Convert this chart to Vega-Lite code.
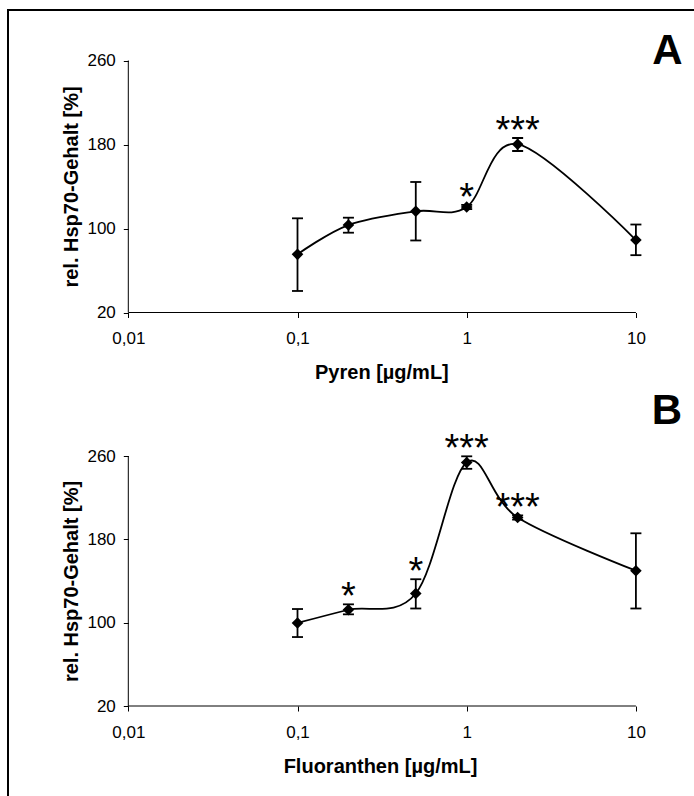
{
  "$schema": "https://vega.github.io/schema/vega-lite/v6.json",
  "width": 686,
  "height": 786,
  "autosize": {"type": "none"},
  "padding": {"left": 8, "top": 10, "right": 0, "bottom": 0},
  "background": "white",
  "config": {
    "view": {"stroke": "black", "strokeWidth": 2, "strokeDash": [686, 1472, 786]},
    "axis": {
      "grid": false, "domain": false, "tickColor": "black", "tickSize": 5, "tickWidth": 1,
      "labelFont": "Liberation Sans", "labelFontSize": 17, "labelColor": "black",
      "titleFont": "Liberation Sans", "titleFontSize": 20, "titleFontWeight": "bold", "titleColor": "black",
      "labelOverlap": false, "labelFlush": false, "labelBound": false
    }
  },
  "datasets": {
    "pyren": [
      {"conc": 0.1, "mean": 75.4, "lo": 40.5, "hi": 109.7, "sig": ""},
      {"conc": 0.2, "mean": 103.3, "lo": 96, "hi": 110.3, "sig": ""},
      {"conc": 0.5, "mean": 116.4, "lo": 88.6, "hi": 144.3, "sig": ""},
      {"conc": 1, "mean": 120.5, "lo": 118.5, "hi": 122.5, "sig": "*"},
      {"conc": 2, "mean": 180.3, "lo": 173.8, "hi": 186.2, "sig": "***"},
      {"conc": 10, "mean": 89, "lo": 74.6, "hi": 103.8, "sig": ""}
    ],
    "fluoranthen": [
      {"conc": 0.1, "mean": 99.7, "lo": 86.2, "hi": 113.1, "sig": ""},
      {"conc": 0.2, "mean": 112.4, "lo": 108, "hi": 117.6, "sig": "*"},
      {"conc": 0.5, "mean": 128, "lo": 113.6, "hi": 141.7, "sig": "*"},
      {"conc": 1, "mean": 253.8, "lo": 247.7, "hi": 259.7, "sig": "***"},
      {"conc": 2, "mean": 201, "lo": 199, "hi": 203, "sig": "***"},
      {"conc": 10, "mean": 149.9, "lo": 113.6, "hi": 185.8, "sig": ""}
    ]
  },
  "layer": [
    {
      "data": {"name": "pyren"},
      "layer": [
        {
          "mark": {"type": "line", "interpolate": "cardinal", "color": "black", "strokeWidth": 1.8},
          "encoding": {
            "x": {"field": "conc", "type": "quantitative",
              "scale": {"type": "log", "domain": [0.0019454, 22.046], "nice": false},
              "axis": {"orient": "bottom", "offset": -483.5, "values": [0.01, 0.1, 1, 10],
                "labelExpr": "replace(format(datum.value, '~g'), '.', ',')", "labelPadding": 13,
                "title": "Pyren [µg/mL]", "titleX": 373.4, "titlePadding": 16}},
            "y": {"field": "mean", "type": "quantitative",
              "scale": {"domain": [-440.48, 308.1], "nice": false, "zero": false},
              "axis": {"orient": "left", "offset": -120.3, "values": [20, 100, 180, 260], "labelPadding": 8,
                "title": "rel. Hsp70-Gehalt [%]", "titleY": 176.5, "titlePadding": 5}}
          }
        },
        {
          "mark": {"type": "rule", "color": "black", "strokeWidth": 1},
          "data": {"values": [{}]},
          "encoding": {"x": {"datum": 0.01, "type": "quantitative"}, "y": {"datum": 20, "type": "quantitative"}, "y2": {"datum": 260}}
        },
        {
          "mark": {"type": "rule", "color": "black", "strokeWidth": 1},
          "data": {"values": [{}]},
          "encoding": {"x": {"datum": 0.01, "type": "quantitative"}, "x2": {"datum": 10}, "y": {"datum": 20, "type": "quantitative"}}
        },
        {
          "mark": {"type": "rule", "color": "black", "strokeWidth": 1.8},
          "encoding": {"x": {"field": "conc", "type": "quantitative"}, "y": {"field": "lo", "type": "quantitative"}, "y2": {"field": "hi"}}
        },
        {
          "mark": {"type": "tick", "orient": "horizontal", "color": "black", "size": 11, "thickness": 1.8, "opacity": 1},
          "encoding": {"x": {"field": "conc", "type": "quantitative"}, "y": {"field": "lo", "type": "quantitative"}}
        },
        {
          "mark": {"type": "tick", "orient": "horizontal", "color": "black", "size": 11, "thickness": 1.8, "opacity": 1},
          "encoding": {"x": {"field": "conc", "type": "quantitative"}, "y": {"field": "hi", "type": "quantitative"}}
        },
        {
          "mark": {"type": "point", "shape": "diamond", "filled": true, "color": "black", "size": 135, "opacity": 1},
          "encoding": {"x": {"field": "conc", "type": "quantitative"}, "y": {"field": "mean", "type": "quantitative"}}
        },
        {
          "mark": {"type": "text", "font": "Liberation Sans", "fontSize": 38, "color": "black", "align": "center", "baseline": "alphabetic", "dy": 4.7},
          "encoding": {"x": {"field": "conc", "type": "quantitative"}, "y": {"field": "hi", "type": "quantitative"}, "text": {"field": "sig"}}
        },
        {
          "mark": {"type": "text", "text": "A", "font": "Liberation Sans", "fontSize": 42, "fontWeight": "bold", "color": "black", "align": "center", "baseline": "alphabetic", "dx": 31.6, "dy": 3.5},
          "data": {"values": [{}]},
          "encoding": {"x": {"datum": 10, "type": "quantitative"}, "y": {"datum": 260, "type": "quantitative"}}
        }
      ]
    },
    {
      "data": {"name": "fluoranthen"},
      "layer": [
        {
          "mark": {"type": "line", "interpolate": "cardinal", "color": "black", "strokeWidth": 1.8},
          "encoding": {
            "x": {"field": "conc", "type": "quantitative",
              "scale": {"type": "log", "domain": [0.0019454, 22.046], "nice": false},
              "axis": {"orient": "bottom", "offset": -90, "values": [0.01, 0.1, 1, 10],
                "labelExpr": "replace(format(datum.value, '~g'), '.', ',')", "labelPadding": 13,
                "title": "Fluoranthen [µg/mL]", "titleX": 372, "titlePadding": 16}},
            "y": {"field": "mean", "type": "quantitative",
              "scale": {"domain": [-66.4, 688.16], "nice": false, "zero": false},
              "axis": {"orient": "left", "offset": -120.3, "values": [20, 100, 180, 260], "labelPadding": 8,
                "title": "rel. Hsp70-Gehalt [%]", "titleY": 571, "titlePadding": 5}}
          }
        },
        {
          "mark": {"type": "rule", "color": "black", "strokeWidth": 1},
          "data": {"values": [{}]},
          "encoding": {"x": {"datum": 0.01, "type": "quantitative"}, "y": {"datum": 20, "type": "quantitative"}, "y2": {"datum": 260}}
        },
        {
          "mark": {"type": "rule", "color": "black", "strokeWidth": 1},
          "data": {"values": [{}]},
          "encoding": {"x": {"datum": 0.01, "type": "quantitative"}, "x2": {"datum": 10}, "y": {"datum": 20, "type": "quantitative"}}
        },
        {
          "mark": {"type": "rule", "color": "black", "strokeWidth": 1.8},
          "encoding": {"x": {"field": "conc", "type": "quantitative"}, "y": {"field": "lo", "type": "quantitative"}, "y2": {"field": "hi"}}
        },
        {
          "mark": {"type": "tick", "orient": "horizontal", "color": "black", "size": 11, "thickness": 1.8, "opacity": 1},
          "encoding": {"x": {"field": "conc", "type": "quantitative"}, "y": {"field": "lo", "type": "quantitative"}}
        },
        {
          "mark": {"type": "tick", "orient": "horizontal", "color": "black", "size": 11, "thickness": 1.8, "opacity": 1},
          "encoding": {"x": {"field": "conc", "type": "quantitative"}, "y": {"field": "hi", "type": "quantitative"}}
        },
        {
          "mark": {"type": "point", "shape": "diamond", "filled": true, "color": "black", "size": 135, "opacity": 1},
          "encoding": {"x": {"field": "conc", "type": "quantitative"}, "y": {"field": "mean", "type": "quantitative"}}
        },
        {
          "mark": {"type": "text", "font": "Liberation Sans", "fontSize": 38, "color": "black", "align": "center", "baseline": "alphabetic", "dy": 4.7},
          "encoding": {"x": {"field": "conc", "type": "quantitative"}, "y": {"field": "hi", "type": "quantitative"}, "text": {"field": "sig"}}
        },
        {
          "mark": {"type": "text", "text": "B", "font": "Liberation Sans", "fontSize": 42, "fontWeight": "bold", "color": "black", "align": "center", "baseline": "alphabetic", "dx": 31.1, "dy": -31.7},
          "data": {"values": [{}]},
          "encoding": {"x": {"datum": 10, "type": "quantitative"}, "y": {"datum": 260, "type": "quantitative"}}
        }
      ]
    }
  ],
  "resolve": {
    "scale": {"x": "independent", "y": "independent"},
    "axis": {"x": "independent", "y": "independent"}
  }
}
